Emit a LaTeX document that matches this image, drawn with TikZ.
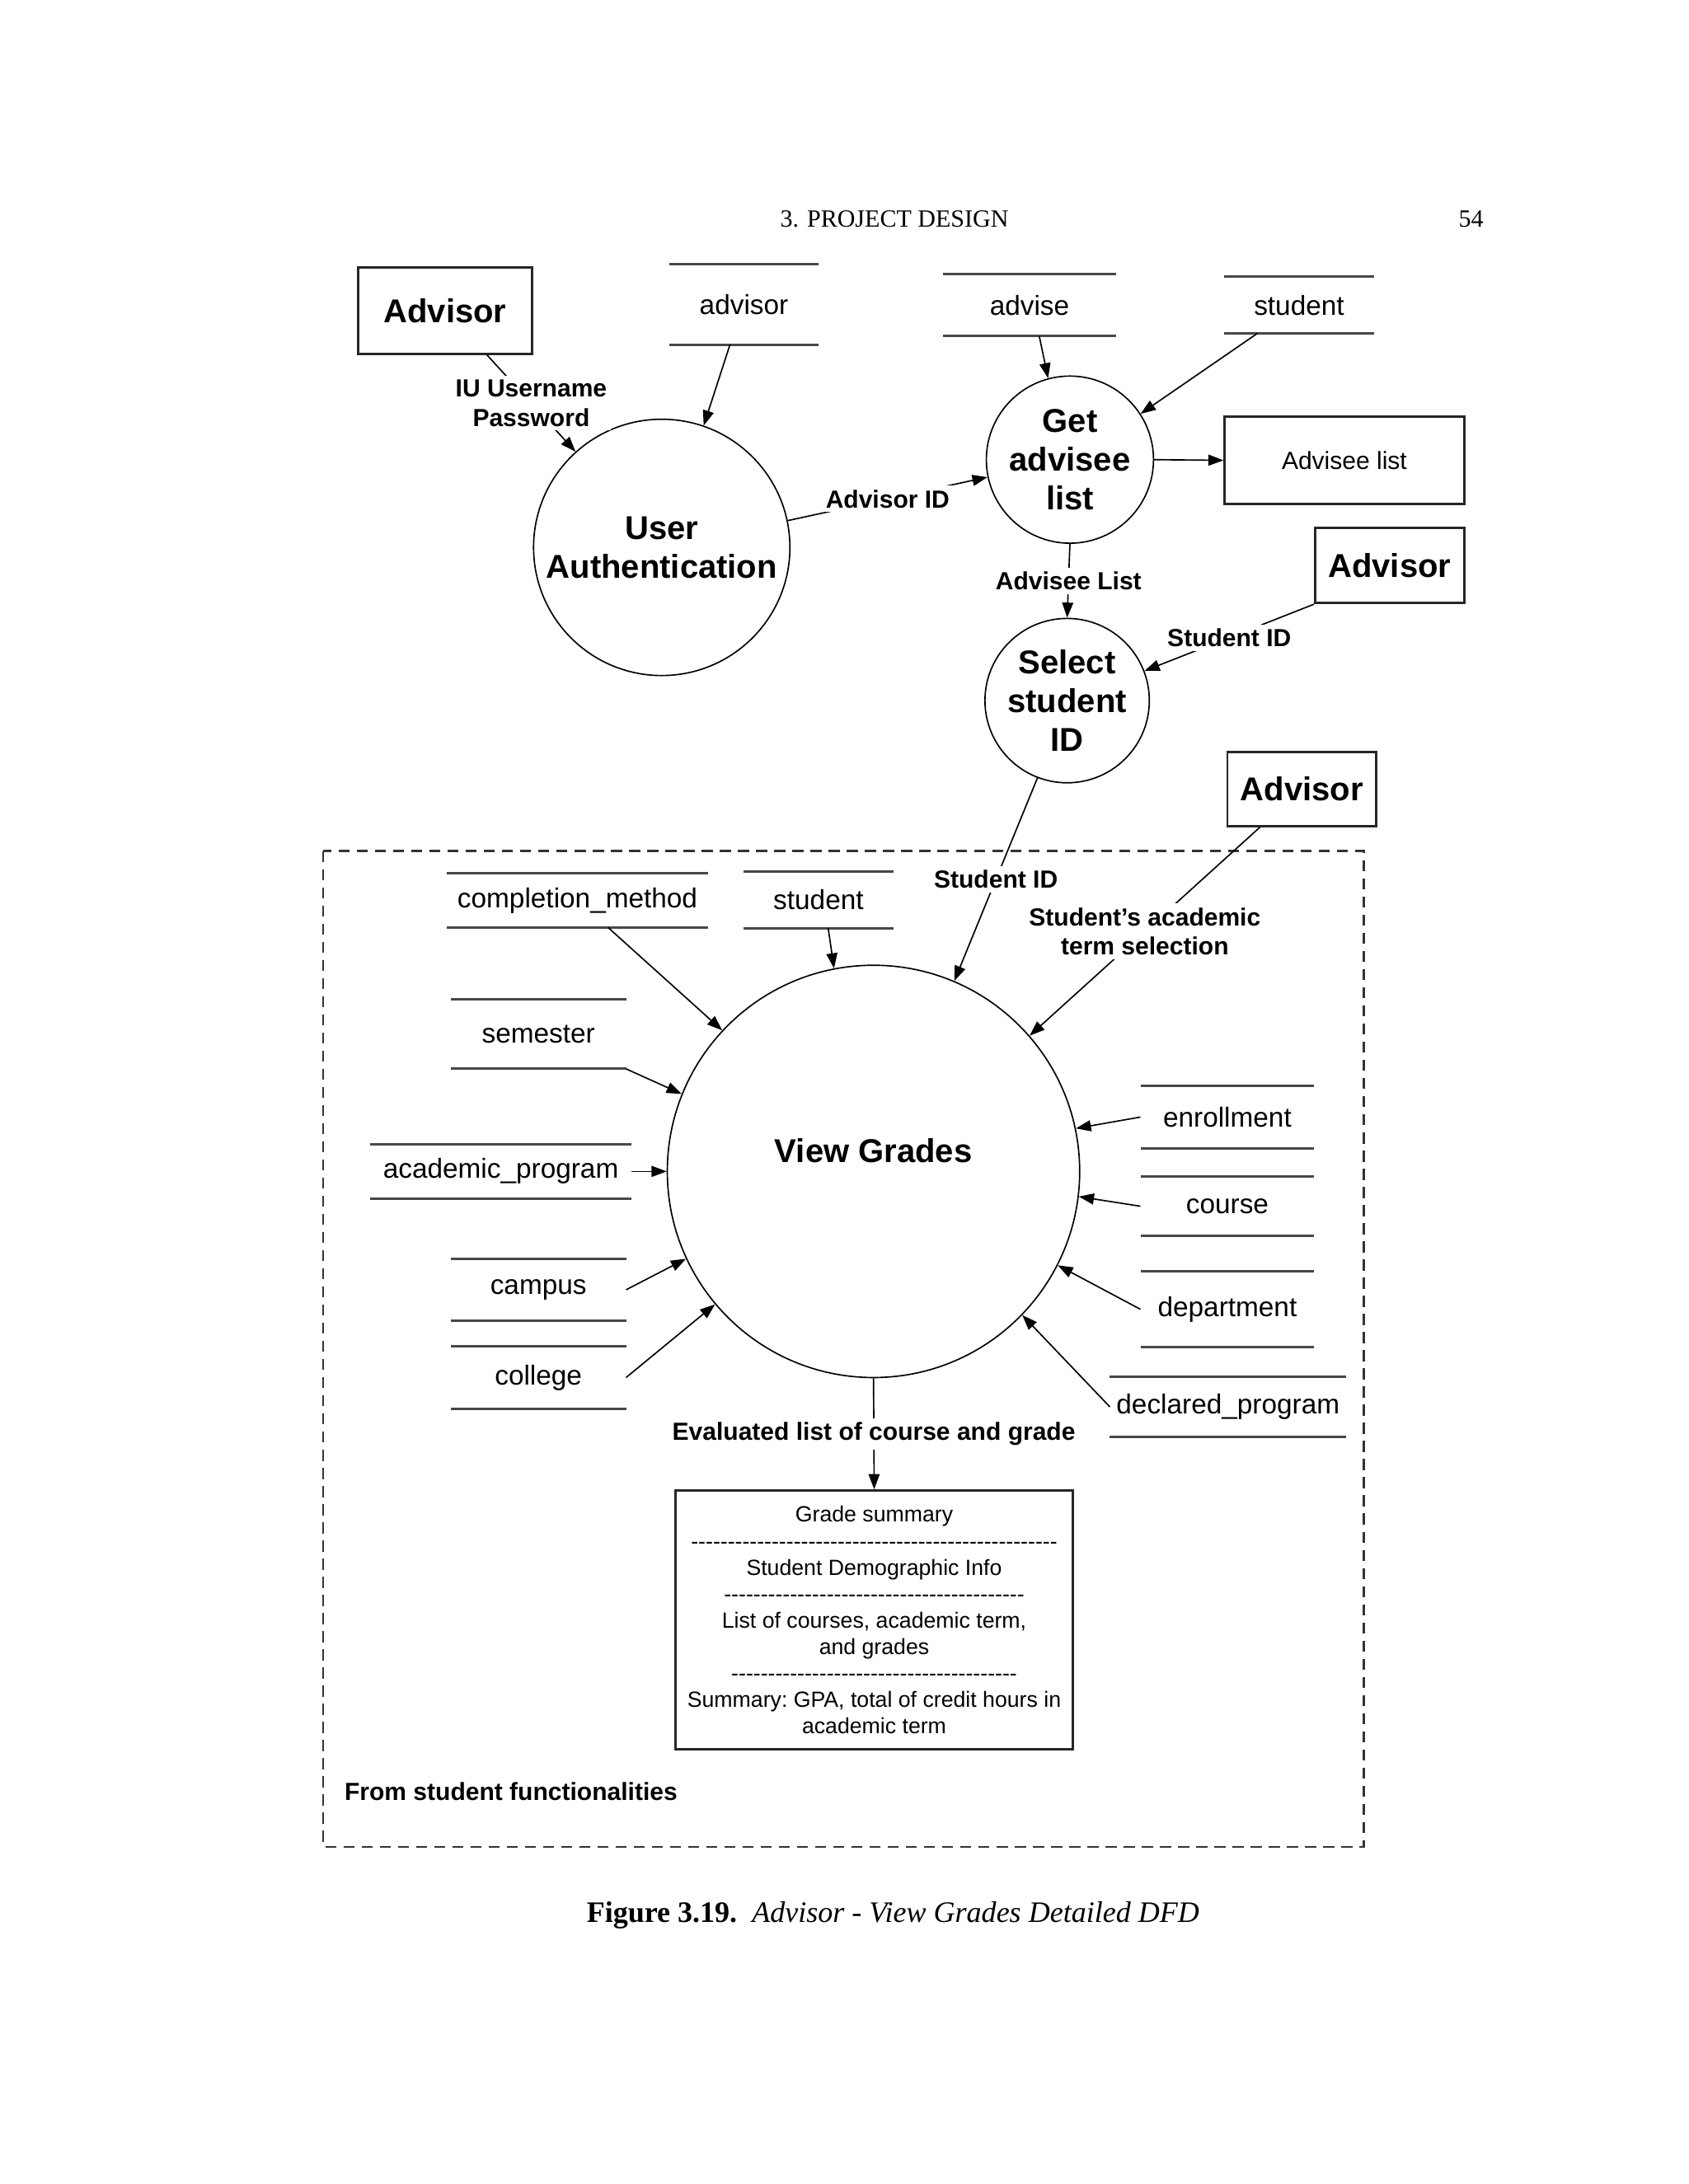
\documentclass[tikz,border=0pt]{standalone}
\usepackage{fontspec}
\setmainfont{Liberation Sans}
\newfontfamily\pagefont{Liberation Serif}
\newfontfamily\boxfont{Liberation Sans}[Ligatures=TeXOff]
\usetikzlibrary{arrows.meta,calc}
\newcommand{\pw}{0.017813cm}
\newcommand{\dashrow}[1]{\foreach \d in {1,...,#1}{-}}
\tikzset{process/.style={draw, circle, line width=0.5pt, minimum size=#1*\pw, inner sep=0pt,
                         align=center, font=\bfseries\fontsize{12}{14}\selectfont},
         entity/.style 2 args={draw, line width=0.8pt, black!85, text=black, minimum width=#1*\pw,
                         minimum height=#2*\pw, inner sep=0pt, align=center},
         storeline/.style={line width=0.9pt, black!72},
         store/.style 2 args={minimum width=#1*\pw, minimum height=#2*\pw, inner sep=0pt,
                         font=\fontsize{10}{12}\selectfont,
                         append after command={\pgfextra{\let\storenode\tikzlastnode}
                           (\storenode.north west) edge[storeline] (\storenode.north east)
                           (\storenode.south west) edge[storeline] (\storenode.south east)}},
         flow/.style={line width=0.5pt, -{Triangle[length=5.5pt,width=4pt]}},
         flowlabel/.style={fill=white, inner sep=1.5pt, align=center,
                         font=\bfseries\fontsize{9}{10.6}\selectfont}}

\begin{document}
\begin{tikzpicture}[x=\pw, y=-\pw]
    \useasboundingbox (0,0) rectangle (1212,1568);
    \node[font=\pagefont\fontsize{9}{11}\selectfont] (header) at (642,157) {3. PROJECT DESIGN};
    \node[font=\pagefont\fontsize{9}{11}\selectfont] (pageno) at (1056,157) {54};

    \draw[dashed, line width=0.8pt, black!80, dash pattern=on 4pt off 2.6pt] (232,611) rectangle (979,1326);
    \node[anchor=west, inner sep=0pt, font=\bfseries\fontsize{9}{11}\selectfont] (fromstudent) at (247,1286) {From student functionalities};

    \node[process=184] (ua) at (475,393) {User\\Authentication};
    \node[process=120] (ga) at (768,330) {Get\\advisee\\list};
    \node[process=118] (ss) at (766,503) {Select\\student\\ID};
    \node[process=296, label={[yshift=15*\pw, font=\bfseries\fontsize{12}{14}\selectfont]center:View Grades}] (vg) at (627,841) {};

    \node[entity={125}{62}, font=\bfseries\fontsize{12}{14}\selectfont] (advA) at (319.5,223) {Advisor};
    \node[entity={107}{54}, font=\bfseries\fontsize{12}{14}\selectfont] (advB) at (997.5,406) {Advisor};
    \node[entity={107}{53}, font=\bfseries\fontsize{12}{14}\selectfont] (advC) at (934.5,566.5) {Advisor};
    \node[entity={172}{63}, font=\fontsize{9}{11}\selectfont] (alist) at (965,330.5) {Advisee list};
    \node[entity={285}{186}, font=\boxfont\frenchspacing\fontsize{8}{9.6}\selectfont] (summary) at (627.5,1163)
        {Grade summary\\\dashrow{50}\\Student Demographic Info\\\dashrow{41}\\List of courses, academic term,\\and grades\\\dashrow{39}\\Summary: GPA, total of credit hours in\\academic term};

    \node[store={106}{57}] (advisor) at (534,218.5) {advisor};
    \node[store={124}{44}] (advise) at (739,219) {advise};
    \node[store={107}{40}] (studentA) at (932.5,219) {student};
    \node[store={187}{38}] (compl) at (414.5,646.5) {completion\_method};
    \node[store={107}{40}] (studentB) at (587.5,646) {student};
    \node[store={125}{49}] (semester) at (386.5,742.5) {semester};
    \node[store={187}{38}] (acad) at (359.5,841) {academic\_program};
    \node[store={125}{44}] (campus) at (386.5,926) {campus};
    \node[store={125}{44}] (college) at (386.5,989) {college};
    \node[store={124}{44}] (enroll) at (881,802) {enrollment};
    \node[store={124}{42}] (course) at (881,866) {course};
    \node[store={124}{54}] (dept) at (881,940) {department};
    \node[store={169}{42}] (declared) at (881.5,1010) {declared\_program};

    \draw[flow] ($(advA.south)+(30,0)$) -- node[flowlabel]{IU Username\\Password} (ua.132);
    \draw[flow] ($(advisor.south)+(-10,0)$) -- (ua.71);
    \draw[flow] (ua.12) -- node[flowlabel]{Advisor ID} (ga.192);
    \draw[flow] ($(advise.south)+(7,0)$) -- (ga.105);
    \draw[flow] ($(studentA.south)+(-30,0)$) -- (ga.33);
    \draw[flow] (ga.east) -- (alist.west);
    \draw[flow] (ga.south) -- node[flowlabel]{Advisee List} (ss.north);
    \draw[flow] (advB.south west) -- node[flowlabel]{Student ID} (ss.21);
    \draw[flow] (ss.249) -- node[flowlabel]{Student ID} (vg.67);
    \draw[flow] ($(advC.south)+(-30,0)$) -- node[flowlabel]{Student’s academic\\term selection} (vg.41);
    \draw[flow] ($(compl.south)+(22,0)$) -- (vg.137);
    \draw[flow] ($(studentB.south)+(7,0)$) -- (vg.101);
    \draw[flow] (semester.south east) -- (vg.158);
    \draw[flow] (acad.east) -- (vg.west);
    \draw[flow] (campus.east) -- (vg.205);
    \draw[flow] (college.east) -- (vg.220);
    \draw[flow] (enroll.west) -- (vg.12);
    \draw[flow] (course.west) -- (vg.-7);
    \draw[flow] (dept.west) -- (vg.-27);
    \draw[flow] (declared.west) -- (vg.-44);
    \draw[flow] (vg.south) -- node[flowlabel]{Evaluated list of course and grade} (summary.north);

    \node[anchor=base, font=\pagefont\fontsize{10.8}{13}\selectfont] (caption) at (641,1380)
        {\textbf{Figure 3.19.}\ \ \textit{Advisor - View Grades Detailed DFD}};
\end{tikzpicture}
\end{document}
